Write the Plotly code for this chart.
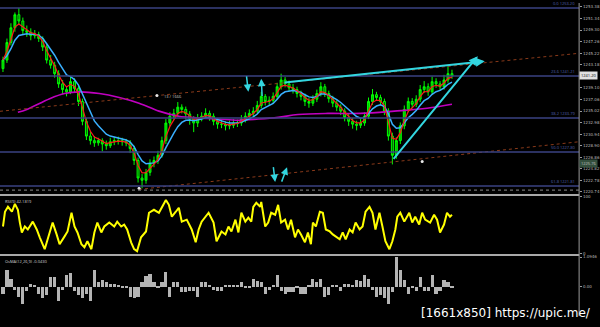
import numpy as np
import pandas as pd
import plotly.graph_objects as go

# ---------------- data ----------------
opens = [1242.5,1244.0,1247.1,1249.7,1252.0,1250.9,1249.2,1248.9,1248.3,1248.5,
         1247.8,1246.3,1244.0,1243.1,1241.6,1239.8,1238.8,1238.4,1240.2,1239.0,
         1236.7,1233.2,1230.6,1229.8,1229.4,1229.8,1229.2,1228.9,1229.6,1229.8,
         1229.8,1229.6,1229.4,1228.4,1226.3,1223.2,1222.8,1224.2,1225.8,1226.3,
         1227.2,1229.8,1232.9,1234.1,1234.6,1235.7,1235.3,1234.5,1233.6,1232.9,
         1233.8,1234.1,1234.6,1234.1,1233.2,1232.7,1232.7,1232.4,1232.5,1232.9,
         1232.9,1233.6,1234.1,1234.6,1235.0,1236.0,1237.6,1236.7,1236.9,1237.6,
         1239.3,1240.5,1239.8,1239.1,1238.8,1238.1,1237.6,1236.7,1236.4,1237.1,
         1238.1,1239.3,1238.1,1237.2,1236.4,1235.7,1235.0,1233.9,1233.2,1232.7,
         1232.5,1232.9,1234.1,1236.7,1237.9,1237.4,1236.7,1235.0,1230.6,1227.2,
         1229.8,1232.4,1235.3,1236.7,1236.2,1237.1,1238.8,1239.3,1238.4,1240.2,
         1239.8,1239.3,1240.5,1241.6]
highs = [1244.6,1247.8,1250.5,1252.4,1253.2,1251.5,1250.1,1249.6,1249.3,1249.0,
         1248.2,1246.9,1244.9,1243.7,1242.2,1240.5,1239.3,1241.1,1240.8,1239.5,
         1237.2,1233.8,1231.4,1230.6,1230.3,1230.2,1229.8,1230.3,1230.4,1230.5,
         1230.3,1230.1,1229.9,1228.9,1226.8,1223.9,1224.8,1226.5,1227.0,1228.0,
         1230.5,1233.6,1234.8,1235.4,1236.6,1236.2,1235.8,1235.0,1234.1,1234.5,
         1234.8,1235.5,1235.1,1234.6,1233.8,1233.4,1233.2,1233.3,1233.6,1233.5,
         1234.3,1234.8,1235.3,1235.7,1236.8,1238.4,1238.0,1237.6,1238.3,1240.0,
         1241.6,1241.0,1240.4,1239.8,1239.3,1238.6,1238.1,1237.3,1237.8,1238.8,
         1240.1,1239.8,1238.6,1237.7,1236.9,1236.2,1235.5,1234.5,1233.8,1233.3,
         1233.6,1234.8,1237.4,1238.9,1238.4,1237.9,1237.2,1235.5,1231.2,1230.4,
         1233.0,1236.0,1237.4,1237.3,1237.8,1239.6,1240.3,1239.9,1241.1,1240.8,
         1240.3,1241.4,1242.9,1242.3]
lows = [1241.9,1243.5,1246.6,1249.0,1250.2,1248.6,1248.1,1247.5,1247.8,1247.2,
        1245.6,1243.4,1242.5,1240.9,1239.1,1238.0,1237.6,1238.0,1238.3,1235.9,
        1232.5,1229.9,1229.1,1228.7,1228.9,1227.9,1228.2,1228.5,1229.0,1229.1,
        1228.9,1228.8,1227.6,1225.5,1222.4,1221.4,1222.2,1223.6,1225.1,1225.7,
        1226.8,1229.2,1232.3,1233.5,1234.0,1234.6,1233.6,1232.6,1231.3,1232.2,
        1233.2,1233.6,1233.3,1232.5,1231.9,1232.0,1231.6,1231.8,1232.0,1232.2,
        1232.4,1233.0,1233.6,1234.1,1234.5,1235.5,1236.0,1236.1,1236.4,1237.1,
        1238.8,1239.2,1238.5,1238.1,1237.4,1236.9,1235.9,1235.6,1235.9,1236.6,
        1237.6,1237.5,1236.5,1235.7,1235.0,1234.3,1233.2,1232.4,1231.9,1231.6,
        1232.0,1232.4,1233.6,1236.1,1236.8,1236.0,1234.3,1229.8,1225.6,1226.6,
        1229.2,1231.8,1234.8,1235.5,1235.7,1236.6,1238.2,1237.7,1237.9,1239.1,
        1238.6,1238.8,1240.0,1240.7]
closes = [1244.0,1247.1,1249.7,1252.0,1250.9,1249.2,1248.9,1248.3,1248.5,1247.8,
          1246.3,1244.0,1243.1,1241.6,1239.8,1238.8,1238.4,1240.2,1239.0,1236.7,
          1233.2,1230.6,1229.8,1229.4,1229.8,1229.2,1228.9,1229.6,1229.8,1229.8,
          1229.6,1229.4,1228.4,1226.3,1223.2,1222.8,1224.2,1225.8,1226.3,1227.2,
          1229.8,1232.9,1234.1,1234.6,1235.7,1235.3,1234.5,1233.6,1232.9,1233.8,
          1234.1,1234.6,1234.1,1233.2,1232.7,1232.7,1232.4,1232.5,1232.9,1232.9,
          1233.6,1234.1,1234.6,1235.0,1236.0,1237.6,1236.7,1236.9,1237.6,1239.3,
          1240.5,1239.8,1239.1,1238.8,1238.1,1237.6,1236.7,1236.4,1237.1,1238.1,
          1239.3,1238.1,1237.2,1236.4,1235.7,1235.0,1233.9,1233.2,1232.7,1232.5,
          1232.9,1234.1,1236.7,1237.9,1237.4,1236.7,1235.0,1230.6,1227.2,1229.8,
          1232.4,1235.3,1236.7,1236.2,1237.1,1238.8,1239.3,1238.4,1240.2,1239.8,
          1239.3,1240.5,1241.6,1241.2]

# long moving average (magenta), read at sparse points
ma_long_t = [18, 27, 50, 65, 80, 100, 120, 140, 160, 180, 200, 220, 240, 260,
             280, 300, 330, 363, 397, 430, 455]
ma_long_p = [1234.8, 1235.3, 1237.2, 1238.1, 1238.4, 1238.1, 1237.4, 1236.4,
             1235.0, 1234.1, 1233.8, 1233.6, 1233.4, 1233.6, 1233.9, 1234.4,
             1234.6, 1234.6, 1235.0, 1235.5, 1236.2]

# RSI
rsi_t = [3,5,8,12,15,18,20,22,25,28,33,37,40,45,50,53,57,60,65,68,72,75,78,82,85,
         88,92,95,98,102,105,110,115,118,122,125,128,132,135,138,142,147,150,155,
         160,167,170,173,177,180,183,188,193,197,200,203,210,215,218,223,227,230,
         233,237,240,243,247,250,253,255,258,262,263,267,270,273,277,280,283,287,
         290,293,297,300,303,307,310,313,315,318,322,325,328,332,335,338,342,345,
         348,352,355,358,362,365,368,372,375,378,382,385,388,392,395,398,400,403,
         407,412,415,418,422,425,428,433,437,440,443,447,450,453,455]
rsi_v = [47.4,73.7,82.5,73.7,87.7,77.2,54.4,36.8,47.4,42.1,56.1,42.1,28.1,7.0,36.8,
         54.4,33.3,15.8,29.8,38.6,71.9,47.4,36.8,15.8,10.5,21.1,7.0,36.8,54.4,36.8,
         47.4,54.4,47.4,56.1,47.4,50.9,42.1,19.3,7.0,3.5,28.1,38.6,71.9,77.2,71.9,
         94.7,86.0,64.9,73.7,80.7,56.1,59.6,42.1,19.3,42.1,56.1,71.9,54.4,21.1,38.6,
         33.3,47.4,38.6,59.6,36.8,71.9,56.1,63.2,56.1,82.5,89.5,82.5,91.2,47.4,54.4,
         71.9,68.4,86.0,54.4,59.6,42.1,59.6,28.1,42.1,33.3,19.3,36.8,15.8,54.4,47.4,
         73.7,71.9,42.1,38.6,33.3,29.8,24.6,36.8,24.6,42.1,36.8,54.4,42.1,47.4,73.7,
         82.5,71.9,42.1,71.9,47.4,21.1,7.0,21.1,42.1,64.9,71.9,56.1,71.9,54.4,64.9,
         50.9,71.9,59.6,54.4,68.4,59.6,36.8,50.9,71.9,64.9,68.4]

# OsMA histogram (one value per bar)
osma = [-0.26,0.62,0.29,-0.11,-0.37,-0.66,-0.18,0.11,0.07,-0.26,
        -0.44,-0.33,0.37,0.37,-0.55,-0.11,0.44,0.51,-0.18,-0.33,
        -0.44,-0.29,-0.55,0.62,0.15,0.26,0.18,0.11,0.11,0.07,
        -0.04,-0.07,-0.37,-0.44,-0.40,0.18,0.40,0.47,0.18,-0.07,
        0.15,0.55,-0.37,0.18,0.15,-0.22,-0.22,-0.18,-0.15,-0.37,
        0.15,0.15,0.07,-0.11,-0.18,-0.15,0.07,0.07,0.04,0.04,
        0.18,-0.07,-0.07,0.29,0.22,0.15,-0.29,-0.11,0.07,0.44,
        -0.15,-0.29,-0.22,-0.22,-0.04,-0.26,-0.29,0.07,0.29,0.15,
        0.29,-0.37,-0.33,0.04,0.04,-0.18,0.11,0.11,0.07,0.26,
        0.22,0.44,0.29,-0.11,-0.37,-0.33,-0.44,-0.66,-0.22,1.09,
        0.62,0.26,-0.26,-0.07,-0.18,0.37,-0.18,-0.15,0.44,-0.26,
        -0.15,0.26,0.15,-0.07]

# Fibonacci retracement
fib_levels = [0.0, 23.6, 38.2, 50.0, 61.8]
fib_high = 1253.20
fib_low = 1202.40

# trend / channel lines (time, price)
chan_up_t = [0, 583]
chan_up_p = [1234.97, 1245.2]
chan_dn_t = [140, 583]
chan_dn_p = [1221.2, 1229.6]
wedge_top_t = [285, 488]
wedge_top_p = [1240.0, 1243.8]
wedge_rise_t = [395, 481]
wedge_rise_p = [1226.3, 1244.7]
# small arrows: tail (t, p) -> head (t, p)
arrows = [((248, 1241.4), (250, 1238.4)),
          ((264, 1237.4), (263, 1240.7)),
          ((275, 1225.4), (277, 1222.5)),
          ((283, 1222.3), (289, 1225.1))]
dots_t = [140, 158, 425]
dots_p = [1221.4, 1237.75, 1226.1]
dotted_level = 1221.07

# price scale labels (the one at the current price is covered by the bid label)
price_ticks = [1253.38,1251.34,1249.30,1247.26,1245.22,1243.18,1239.10,
               1237.06,1235.02,1232.98,1230.94,1228.90,1226.86,1224.82,1222.78,1220.74]
osma_top = 1.0946
hline_label_price = 1225.76

# ---------------- figure ----------------
W, H = 600, 327
AX_X = 583
t = 3 + 4 * np.arange(len(closes))
cs = pd.Series(closes)
ema_fast = cs.ewm(span=3, adjust=False).mean()
ema_slow = cs.ewm(span=7, adjust=False).mean()

def py(px):
    return 1 - px / H

fig = go.Figure()
fig.add_trace(go.Scatter(x=ma_long_t, y=ma_long_p, mode="lines",
                         line=dict(color="#c000c0", width=1.6, shape="spline"),
                         hoverinfo="skip"))
fig.add_trace(go.Scatter(x=chan_up_t, y=chan_up_p, mode="lines",
                         line=dict(color="#8a3a1a", width=1, dash="dot")))
fig.add_trace(go.Scatter(x=chan_dn_t, y=chan_dn_p, mode="lines",
                         line=dict(color="#8a3a1a", width=1, dash="dot")))
fig.add_trace(go.Candlestick(x=t, open=opens, high=highs, low=lows, close=closes,
                             increasing=dict(line=dict(color="#00ff00", width=1), fillcolor="#00c000"),
                             decreasing=dict(line=dict(color="#00ff00", width=1), fillcolor="#006000"),
                             whiskerwidth=0))
fig.add_trace(go.Scatter(x=t, y=ema_slow, mode="lines",
                         line=dict(color="#3ab0ff", width=1.5)))
fig.add_trace(go.Scatter(x=t, y=ema_fast, mode="lines",
                         line=dict(color="#ff1a1a", width=1.2)))
fig.add_trace(go.Scatter(x=dots_t, y=dots_p, mode="markers",
                         marker=dict(color="#e8e8e8", size=3)))
fig.add_trace(go.Scatter(x=rsi_t, y=rsi_v, mode="lines", yaxis="y2",
                         line=dict(color="#ffff00", width=2)))
fig.add_trace(go.Bar(x=t, y=osma, yaxis="y3", width=3.2,
                     marker=dict(color="#b4b4b4", line=dict(width=0))))

shapes = []
annotations = []
fib_prices = [fib_high - lv / 100 * (fib_high - fib_low) for lv in fib_levels]
for lv, fp in zip(fib_levels, fib_prices):
    shapes.append(dict(type="line", xref="x", yref="y", x0=0, x1=AX_X, y0=fp, y1=fp,
                       line=dict(color="#3a4282", width=1.5)))
    annotations.append(dict(xref="x", yref="y", x=AX_X - 2, y=fp, xanchor="right",
                            yanchor="bottom", showarrow=False,
                            text=f"{lv:.1f} {fp:.2f}",
                            font=dict(size=4, color="#5060b0")))
shapes.append(dict(type="line", xref="x", yref="y", x0=0, x1=AX_X,
                   y0=dotted_level, y1=dotted_level,
                   line=dict(color="#8c8c8c", width=1, dash="dot")))
# pane separators
for sep in (195, 256):
    shapes.append(dict(type="line", xref="paper", yref="paper", x0=0, x1=AX_X / W,
                       y0=py(sep), y1=py(sep), line=dict(color="#a8a8a8", width=2)))
shapes.append(dict(type="line", xref="paper", yref="paper", x0=AX_X / W, x1=AX_X / W,
                   y0=py(318), y1=1, line=dict(color="#9a9a9a", width=1)))

# trend lines with arrow heads
for tt, pp in ((wedge_top_t, wedge_top_p), (wedge_rise_t, wedge_rise_p)):
    annotations.append(dict(xref="x", yref="y", axref="x", ayref="y",
                            x=tt[1], y=pp[1], ax=tt[0], ay=pp[0], text="",
                            showarrow=True, arrowhead=2, arrowsize=0.9,
                            arrowwidth=2, arrowcolor="#33d6e0"))
for (t0, p0), (t1, p1) in arrows:
    annotations.append(dict(xref="x", yref="y", axref="x", ayref="y",
                            x=t1, y=p1, ax=t0, ay=p0, text="",
                            showarrow=True, arrowhead=2, arrowsize=1,
                            arrowwidth=1.5, arrowcolor="#33d6e0"))

annotations.append(dict(xref="x", yref="y", x=163, y=1237.6, xanchor="left",
                        showarrow=False, text="13 / 1666",
                        font=dict(size=4, color="#c8c8c8")))
annotations.append(dict(xref="paper", yref="paper", x=3 / W, y=py(197), xanchor="left",
                        yanchor="top", showarrow=False, text="RSI(9) 42.1819",
                        font=dict(size=4, color="#d0d0d0")))
annotations.append(dict(xref="paper", yref="paper", x=3 / W, y=py(258), xanchor="left",
                        yanchor="top", showarrow=False, text="OsMA(12,26,9) -0.0430",
                        font=dict(size=4, color="#d0d0d0")))
annotations.append(dict(xref="paper", yref="y", x=AX_X / W, y=closes[-1], xanchor="left",
                        showarrow=False, text=f"{closes[-1]:.2f}", bgcolor="#e0e0e0",
                        borderpad=1, font=dict(size=4, color="#000000")))
annotations.append(dict(xref="paper", yref="y", x=AX_X / W, y=hline_label_price, xanchor="left",
                        showarrow=False, text=f"{hline_label_price:.2f}", bgcolor="#34503e",
                        borderpad=1, font=dict(size=4, color="#c0c0c0")))
annotations.append(dict(xref="paper", yref="paper", x=597 / W, y=py(315), xanchor="right",
                        yanchor="middle", showarrow=False,
                        text="[1661x850] https://upic.me/",
                        font=dict(family="DejaVu Sans", size=12, color="#ffffff")))

axis_common = dict(side="right", anchor="x", showgrid=False, zeroline=False,
                   showline=False, ticks="outside", ticklen=2, tickcolor="#9a9a9a",
                   tickfont=dict(size=4, color="#b8b8b8", family="DejaVu Sans"),
                   fixedrange=True)

fig.update_layout(
    width=W, height=H, margin=dict(l=0, r=0, t=0, b=0),
    paper_bgcolor="#000000", plot_bgcolor="#000000", showlegend=False,
    bargap=0,
    xaxis=dict(domain=[0, AX_X / W], range=[0, AX_X], visible=False,
               rangeslider=dict(visible=False), anchor="y3"),
    yaxis=dict(domain=[py(193), 1], range=[1220.55, 1254.07],
               tickvals=price_ticks, ticktext=[f"{v:.2f}" for v in price_ticks],
               **axis_common),
    yaxis2=dict(domain=[py(254), py(197)], range=[0, 100],
                tickvals=[0, 100], ticktext=["0", "100"], **axis_common),
    yaxis3=dict(domain=[py(316), py(258)], range=[-1.022, osma_top],
                tickvals=[0, osma_top], ticktext=["0.00", f"{osma_top:.4f}"],
                **axis_common),
    shapes=shapes, annotations=annotations,
)
fig.write_html("out.html")
